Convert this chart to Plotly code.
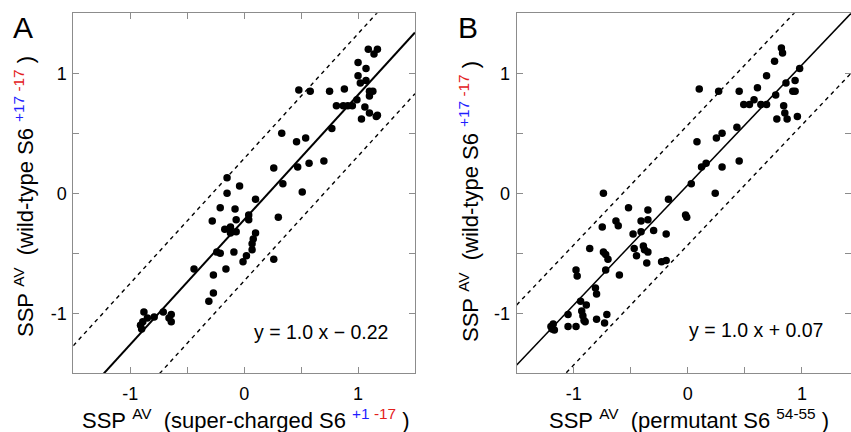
import plotly.graph_objects as go

# ---------------- data ----------------
# Panel A: x = SSP AV (super-charged S6 +1 -17), y = SSP AV (wild-type S6 +17 -17)
a_x = [-0.89, -0.91, -0.90, -0.88, -0.85, -0.79, -0.71, -0.66, -0.64, -0.64,
       -0.44, -0.31, -0.27, -0.27, -0.24, -0.21, -0.16, -0.01, 0.02, 0.07,
       0.07, 0.08, 0.10, -0.09, -0.28, -0.21, -0.15, -0.15, -0.04, -0.08,
       -0.07, -0.07, -0.12, -0.17, -0.12, 0.04, 0.04, 0.10, 0.26, 0.30,
       0.26, 0.34, 0.33, 0.46, 0.54, 0.47, 0.51, 0.57, 0.70, 0.77,
       0.48, 0.58, 0.75, 0.88, 0.81, 0.87, 0.91, 0.95, 0.99, 1.00,
       1.00, 1.02, 1.07, 1.07, 1.03, 1.06, 1.10, 1.10, 1.13, 1.10,
       1.16, 1.17, 1.09, 1.14, 1.17]
a_y = [-1.07, -1.10, -1.13, -0.99, -1.04, -1.03, -0.99, -1.04, -1.07, -1.01,
       -0.63, -0.90, -0.83, -0.68, -0.49, -0.50, -0.63, -0.57, -0.52, -0.47,
       -0.42, -0.38, -0.33, -0.49, -0.23, -0.12, 0.13, 0.00, 0.06, -0.13,
       -0.22, -0.32, -0.28, -0.30, -0.33, -0.22, -0.18, -0.05, -0.55, -0.20,
       0.21, 0.08, 0.50, 0.43, 0.46, 0.22, 0.01, 0.25, 0.27, 0.54,
       0.86, 0.85, 0.85, 0.87, 0.73, 0.73, 0.73, 0.73, 0.78, 1.09,
       0.98, 0.92, 1.04, 0.94, 0.62, 0.72, 0.85, 0.81, 0.85, 0.67,
       0.64, 0.65, 1.20, 1.16, 1.20]

# Panel B: x = SSP AV (permutant S6 54-55), y = SSP AV (wild-type S6 +17 -17)
b_x = [-1.20, -1.18, -1.17, -1.19, -1.05, -1.05, -0.98, -0.94, -0.93, -0.92,
       -0.91, -0.90, -0.89, -0.80, -0.73, -0.71, -0.98, -0.97, -0.81, -0.80,
       -0.86, -0.75, -0.74, -0.72, -0.72, -0.70, -0.63, -0.61, -0.60, -0.52,
       -0.74, -0.48, -0.47, -0.45, -0.41, -0.41, -0.39, -0.38, -0.35, -0.35,
       -0.35, -0.36, -0.30, -0.23, -0.19, -0.19, -0.17, -0.02, -0.01, 0.03,
       0.08, 0.12, 0.16, 0.24, 0.25, 0.30, 0.30, 0.43, 0.45, 0.10,
       0.27, 0.45, 0.49, 0.54, 0.58, 0.61, 0.64, 0.69, 0.69, 0.76,
       0.77, 0.78, 0.82, 0.83, 0.86, 0.84, 0.85, 0.87, 0.94, 0.92,
       0.94, 0.96, 0.98]
b_y = [-1.11, -1.09, -1.14, -1.13, -1.01, -1.11, -1.11, -0.90, -0.98, -1.02,
       -1.06, -1.07, -0.93, -1.05, -1.08, -1.01, -0.64, -0.69, -0.79, -0.84,
       -0.46, -0.28, -0.49, -0.51, -0.64, -0.55, -0.23, -0.27, -0.68, -0.12,
       0.00, -0.34, -0.46, -0.52, -0.23, -0.32, -0.44, -0.47, -0.14, -0.22,
       -0.49, -0.58, -0.31, -0.57, -0.56, -0.34, -0.05, -0.18, -0.20, 0.08,
       0.43, 0.22, 0.25, 0.00, 0.46, 0.50, 0.22, 0.55, 0.27, 0.87,
       0.85, 0.85, 0.74, 0.74, 0.78, 0.88, 0.74, 0.74, 0.98, 1.10,
       0.82, 0.62, 1.21, 1.17, 0.92, 0.73, 0.67, 0.62, 0.94, 0.85,
       0.85, 0.64, 1.04]

# fit lines (slope, intercept) and +/- band for dashed lines
a_slope, a_intercept, a_band = 1.04, -0.22, 0.51
b_slope, b_intercept, b_band = 1.00, 0.07, 0.50

a_xrange = [-1.5, 1.5]
b_xrange = [-1.5, 1.43]
yrange = [-1.5, 1.5]

tick_vals = [-1.5, -1, -0.5, 0, 0.5, 1, 1.5]
tick_text = ["", "-1", "", "0", "", "1", ""]

a_eq = "y = 1.0 x \u2212 0.22"
b_eq = "y = 1.0 x + 0.07"

# ---------------- figure ----------------
FONT = "Liberation Sans, Arial, Helvetica, sans-serif"
BLUE = "#1f1fff"
RED = "#e3201b"
FRAME = "#8c8c8c"

fig = go.Figure()


def add_panel(xs, ys, slope, intercept, band, xr, xaxis, yaxis, lw):
    fig.add_trace(go.Scatter(x=xs, y=ys, mode="markers",
                             marker=dict(color="black", size=7.5),
                             xaxis=xaxis, yaxis=yaxis, showlegend=False))
    lx = [xr[0], xr[1]]
    fig.add_trace(go.Scatter(x=lx, y=[slope * v + intercept for v in lx],
                             mode="lines", line=dict(color="black", width=lw),
                             xaxis=xaxis, yaxis=yaxis, showlegend=False))
    for off in (band, -band):
        fig.add_trace(go.Scatter(x=lx, y=[slope * v + intercept + off for v in lx],
                                 mode="lines",
                                 line=dict(color="black", width=1.4, dash="4px,4px"),
                                 xaxis=xaxis, yaxis=yaxis, showlegend=False))


add_panel(a_x, a_y, a_slope, a_intercept, a_band, a_xrange, "x", "y", 2.0)
add_panel(b_x, b_y, b_slope, b_intercept, b_band, b_xrange, "x2", "y2", 1.5)

ax_common = dict(tickvals=tick_vals, ticktext=tick_text, ticks="inside", ticklen=6,
                 tickcolor=FRAME, tickwidth=1, showline=True, linecolor=FRAME,
                 linewidth=1, showgrid=False, zeroline=False,
                 tickfont=dict(family=FONT, size=18, color="black"))

W, H = 851, 432
fig.update_layout(
    width=W, height=H,
    margin=dict(l=0, r=0, t=0, b=0),
    paper_bgcolor="white", plot_bgcolor="white",
    xaxis=dict(domain=[73.3 / W, 415 / W], range=a_xrange, anchor="y",
               mirror="ticks", ticklabelstandoff=4, **ax_common),
    yaxis=dict(domain=[1 - 373.3 / H, 1 - 13.3 / H], range=yrange, anchor="x",
               mirror="ticks", ticklabelstandoff=2, **ax_common),
    xaxis2=dict(domain=[516.7 / W, 1.0], range=b_xrange, anchor="y2",
                mirror=True, ticklabelstandoff=4, **ax_common),
    yaxis2=dict(domain=[1 - 373.3 / H, 1 - 13.3 / H], range=yrange, anchor="x2",
                mirror="ticks", ticklabelstandoff=2, **ax_common),
    font=dict(family=FONT, color="black"),
)

NB = "\u00a0"
sup_wt = (f"<sup><span style='color:{BLUE}'>+17</span>{NB}"
          f"<span style='color:{RED}'>-17</span></sup>")
ytitle = f"SSP{NB}<sup>AV</sup>{NB}{NB}(wild-type S6{NB}{sup_wt}{NB})"
xtitle_a = (f"SSP{NB}<sup>AV</sup>{NB}{NB}(super-charged S6{NB}"
            f"<sup><span style='color:{BLUE}'>+1</span>{NB}"
            f"<span style='color:{RED}'>-17</span></sup>{NB})")
xtitle_b = f"SSP{NB}<sup>AV</sup>{NB}{NB}(permutant S6{NB}<sup>54-55</sup>{NB})"

ann = []
tf = dict(family=FONT, size=22, color="black")
ef = dict(family=FONT, size=19.5, color="black")
ann.append(dict(x=246 / W, y=1 - 419 / H, xref="paper", yref="paper", text=xtitle_a,
                showarrow=False, font=tf, xanchor="center", yanchor="middle"))
ann.append(dict(x=689 / W, y=1 - 419 / H, xref="paper", yref="paper", text=xtitle_b,
                showarrow=False, font=tf, xanchor="center", yanchor="middle"))
ann.append(dict(x=24 / W, y=1 - 197 / H, xref="paper", yref="paper", text=ytitle,
                showarrow=False, font=tf, textangle=-90, xanchor="center", yanchor="middle"))
ann.append(dict(x=469 / W, y=1 - 201 / H, xref="paper", yref="paper", text=ytitle,
                showarrow=False, font=tf, textangle=-90, xanchor="center", yanchor="middle"))
ann.append(dict(x=23 / W, y=1 - 27 / H, xref="paper", yref="paper", text="A",
                showarrow=False, font=dict(family=FONT, size=30, color="black"),
                xanchor="center", yanchor="middle"))
ann.append(dict(x=468 / W, y=1 - 27 / H, xref="paper", yref="paper", text="B",
                showarrow=False, font=dict(family=FONT, size=30, color="black"),
                xanchor="center", yanchor="middle"))
ann.append(dict(x=321 / W, y=1 - 332 / H, xref="paper", yref="paper", text=a_eq,
                showarrow=False, font=ef, xanchor="center", yanchor="middle"))
ann.append(dict(x=756 / W, y=1 - 330 / H, xref="paper", yref="paper", text=b_eq,
                showarrow=False, font=ef, xanchor="center", yanchor="middle"))
fig.update_layout(annotations=ann)

fig.write_html("out.html")
